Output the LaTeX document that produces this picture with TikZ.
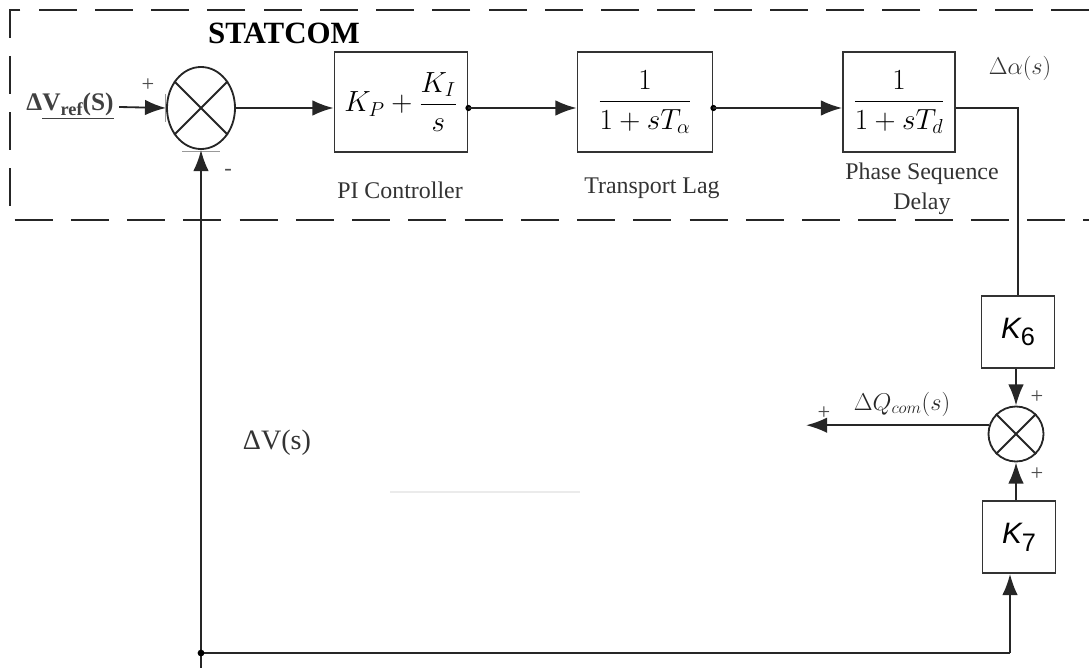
\documentclass[tikz,border=0pt]{standalone}
\usepackage{fontspec}
\setmainfont{Liberation Serif}
\newfontfamily\arialf{Liberation Sans}
\usetikzlibrary{arrows.meta,shapes.geometric}
\begin{document}
\begin{tikzpicture}[x=0.025cm,y=-0.025cm,
  wire/.style={line width=1.3pt, draw=black!85},
  arr/.style={wire,-{Latex[length=15pt,width=11pt]}},
  blk/.style={draw=black!80,line width=1.3pt,minimum width=#1,minimum height=2.5cm,inner sep=0pt,
    font=\fontsize{20}{22}\selectfont},
  kblk/.style={draw=black!80,line width=1.3pt,minimum width=1.825cm,minimum height=1.8cm,inner sep=0pt},
  sumE/.style={draw=black!85,line width=1.3pt,ellipse,minimum width=1.7cm,minimum height=2.05cm,inner sep=0pt},
  sumC/.style={draw=black!85,line width=1.3pt,circle,minimum size=1.375cm,inner sep=0pt},
  lbl/.style={text=black!80,font=\fontsize{17}{21}\selectfont,align=center},
  sgn/.style={text=black!70,font=\fontsize{16}{16}\selectfont,inner sep=0pt},
  frame/.style={line width=1.3pt,draw=black!85,dash pattern=on 27pt off 13pt}
]
\useasboundingbox (0,0) rectangle (1089,668);

% dashed STATCOM frame
\draw[frame] (1089,10) -- (10,10) -- (10,220) -- (1089,220);
\node[font=\fontsize{22}{24}\selectfont\bfseries] (title) at (284,33) {STATCOM};

% blocks
\node[sumE] (s1) at (201,108) {};
\draw[wire] (s1.45) -- (s1.225) (s1.135) -- (s1.315);
\node[blk=3.325cm] (pi) at (401,102) {$\displaystyle K_P+\frac{K_I}{s}$};
\node[blk=3.375cm] (tl) at (645,102) {$\displaystyle\frac{1}{1+sT_\alpha}$};
\node[blk=2.8cm] (psd) at (899,102) {$\displaystyle\frac{1}{1+sT_d}$};

\node[lbl] (pil) at (400,190) {PI Controller};
\node[lbl] (tll) at (652,188) {Transport Lag};
\node[lbl] (psdl) at (922,189) {Phase Sequence\\Delay};
\node[text=black!80,font=\fontsize{17}{19}\selectfont] (alpha) at (1020,68) {$\Delta\alpha(s)$};

% input
\node[text=black!75,font=\fontsize{18}{20}\selectfont\bfseries,inner sep=1pt] (vin) at (70,106)
  {Δ\underline{V\raisebox{-0.45ex}{\fontsize{13}{13}\selectfont ref}(S)}};
\draw[arr] (vin.east) ++(4,1) -- (s1.west);
\node[sgn] (p1) at (148,85) {+};
\node[sgn] (m1) at (228,172) {-};
\draw[black!40,line width=0.6pt] (165,94) -- (165,122);
\draw[black!40,line width=0.6pt] (182,151) -- (220,151);

% forward path
\draw[arr] (s1.east) -- (s1.east -| pi.west);
\fill (pi.east |- s1.east) circle (2.2pt);
\draw[arr] (pi.east |- s1.east) -- (tl.west |- s1.east);
\fill (tl.east |- s1.east) circle (2.2pt);
\draw[arr] (tl.east |- s1.east) -- (psd.west |- s1.east);

% K6, sum 2, K7
\node[kblk] (k6) at (1018,332) {{\arialf\fontsize{21}{21}\selectfont\itshape K}\raisebox{-1.2ex}{\arialf\fontsize{18}{18}\selectfont 6}};
\node[sumC] (s2) at (1016,434) {};
\draw[wire] (s2.45) -- (s2.225) (s2.135) -- (s2.315);
\node[kblk] (k7) at (1019,537) {{\arialf\fontsize{21}{21}\selectfont\itshape K}\raisebox{-1.2ex}{\arialf\fontsize{18}{18}\selectfont 7}};

\draw[wire] (psd.east |- s1.east) -| (k6.north);
\draw[arr] (k6.south -| s2.north) -- (s2.north);
\draw[arr] (k7.north -| s2.south) -- (s2.south);
\node[sgn] (p2) at (1037,397) {+};
\node[sgn] (p3) at (1037,474) {+};

\coordinate (qout) at (806,424);
\draw[arr] (s2.162) -- (s2.162 -| qout);
\node[sgn] (p4) at (824,413) {+};
\node[text=black!85,font=\fontsize{18}{20}\selectfont] (qlbl) at (902,404) {$\Delta Q_{com}(s)$};

% feedback
\coordinate (bl) at (201,653);
\coordinate (br) at (1010,653);
\coordinate (fbin) at (201,668);
\draw[wire] (bl) -- (br);
\draw[arr] (br) -- (br |- k7.south);
\draw[arr] (fbin) -- (s1.south);
\fill (bl) circle (2.4pt);
\node[text=black!80,font=\fontsize{20}{22}\selectfont] (vs) at (277,443) {ΔV(s)};
\draw[black!8,line width=1pt] (390,492) -- (580,492);
\end{tikzpicture}
\end{document}
